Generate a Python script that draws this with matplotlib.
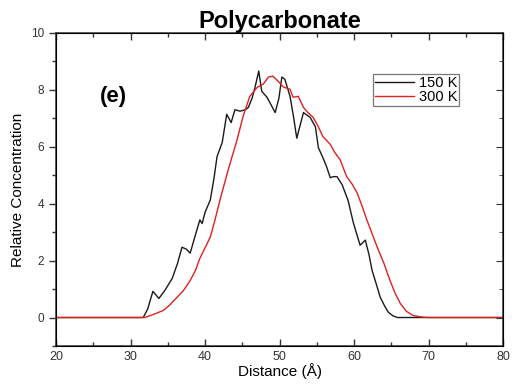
import matplotlib
matplotlib.use('Agg')
import matplotlib.pyplot as plt
from matplotlib.ticker import MultipleLocator

plt.rcParams['font.family'] = ['Liberation Sans', 'DejaVu Sans']

# 150 K profile
x_150 = [20, 31.7, 32.3, 33.0, 33.8, 34.6, 35.6, 36.3, 36.9, 37.5, 38.0, 38.7, 39.3, 39.6,
         40.0, 40.7, 41.2, 41.6, 42.3, 42.9, 43.5, 44.0, 44.7, 45.4, 45.8, 46.3, 46.7, 47.2,
         47.6, 48.3, 48.9, 49.4, 49.9, 50.3, 50.7, 51.4, 51.9, 52.3, 52.7, 53.2, 54.1, 54.8,
         55.2, 55.8, 56.3, 56.8, 57.2, 57.7, 58.4, 59.2, 59.9, 60.8, 61.5, 62.0, 62.4, 63.0,
         63.5, 64.1, 64.6, 65.2, 65.8, 67, 80]
y_150 = [0, 0, 0.3, 0.92, 0.67, 0.95, 1.38, 1.9, 2.47, 2.4, 2.26, 2.9, 3.43, 3.3,
         3.7, 4.13, 4.9, 5.65, 6.15, 7.14, 6.85, 7.3, 7.25, 7.3, 7.38, 7.7, 8.09, 8.66,
         7.95, 7.74, 7.45, 7.2, 7.7, 8.45, 8.37, 7.77, 7.0, 6.3, 6.7, 7.2, 7.03, 6.7,
         5.97, 5.62, 5.3, 4.91, 4.95, 4.95, 4.66, 4.1, 3.32, 2.54, 2.72, 2.2, 1.66, 1.15,
         0.71, 0.4, 0.18, 0.06, 0.0, 0, 0]

# 300 K profile
x_300 = [20, 31.9, 33, 34.4, 35.3, 36.2, 37.1, 38.0, 38.7, 39.3, 40.0, 40.7, 41.3, 42.0,
         43.1, 44.3, 45.1, 46.0, 47.0, 47.8, 48.5, 49.1, 49.8, 50.5, 51.4, 51.8, 52.5, 53.2,
         53.8, 54.5, 55.2, 55.8, 56.8, 57.4, 58.1, 59.0, 59.7, 60.4, 61.1, 61.7, 62.4, 63.1,
         64.0, 64.8, 65.5, 66.2, 67.0, 67.9, 69.0, 69.9, 80]
y_300 = [0, 0, 0.1, 0.25, 0.45, 0.7, 0.95, 1.3, 1.65, 2.08, 2.45, 2.83, 3.4, 4.13,
         5.19, 6.25, 7.07, 7.77, 8.09, 8.2, 8.45, 8.48, 8.3, 8.1, 8.02, 7.74, 7.77, 7.38,
         7.2, 7.03, 6.7, 6.36, 6.08, 5.8, 5.55, 4.95, 4.7, 4.38, 3.89, 3.43, 2.95, 2.47,
         1.9, 1.31, 0.85, 0.49, 0.22, 0.07, 0.02, 0, 0]

fig = plt.figure(figsize=(5.14, 3.87), dpi=100)
ax = fig.add_axes([0.109, 0.106, 0.870, 0.809])

ax.plot(x_150, y_150, color='#1a1a1a', lw=1.0, label='150 K')
ax.plot(x_300, y_300, color='#e0201f', lw=1.0, label='300 K')

ax.set_xlim(20, 80)
ax.set_ylim(-1, 10)
ax.xaxis.set_major_locator(MultipleLocator(10))
ax.xaxis.set_minor_locator(MultipleLocator(5))
ax.yaxis.set_major_locator(MultipleLocator(2))
ax.yaxis.set_minor_locator(MultipleLocator(1))

ax.tick_params(axis='x', which='both', direction='in', top=True, labelsize=9, colors='#333333')
ax.tick_params(axis='y', which='both', direction='out', labelsize=8.5, colors='#333333')
ax.tick_params(which='major', length=5, width=1.0)
ax.tick_params(which='minor', length=3, width=1.0)
ax.tick_params(axis='y', which='both', right=False)
for s in ax.spines.values():
    s.set_linewidth(1.1)
    s.set_color('#333333')

# inward ticks on the right side
ax2 = ax.twinx()
ax2.set_ylim(ax.get_ylim())
ax2.yaxis.set_major_locator(MultipleLocator(2))
ax2.yaxis.set_minor_locator(MultipleLocator(1))
ax2.tick_params(axis='y', which='both', direction='in', labelright=False, colors='#333333')
ax2.tick_params(which='major', length=5)
ax2.tick_params(which='minor', length=3)

ax.set_xlabel('Distance (Å)', fontsize=11, labelpad=0)
ax.set_ylabel('Relative Concentration', fontsize=11, labelpad=4)
ax.set_title('Polycarbonate', fontsize=17, fontweight='bold', pad=2)
ax.text(27.7, 7.75, '(e)', fontsize=16, fontweight='bold', ha='center', va='center')

leg = ax.legend(loc='upper right', bbox_to_anchor=(0.902, 0.869), fontsize=10.5, frameon=True,
                fancybox=False, edgecolor='#555555', handlelength=2.7, handletextpad=0.3,
                borderpad=0.15, labelspacing=0.0, borderaxespad=0)
leg.get_frame().set_linewidth(0.9)

fig.savefig('out.png', dpi=100)
